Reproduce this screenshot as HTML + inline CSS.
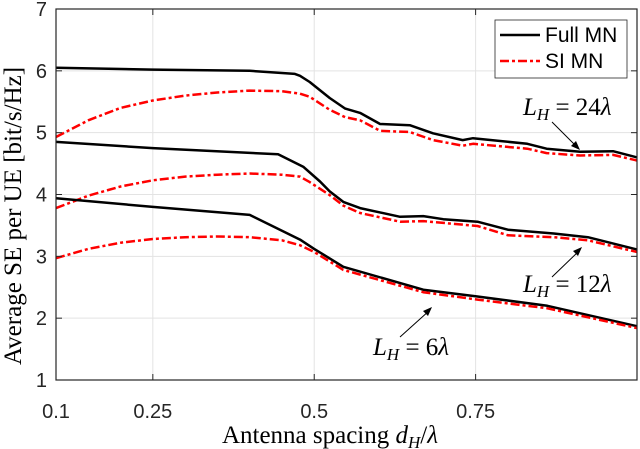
<!DOCTYPE html>
<html><head><meta charset="utf-8">
<style>
html,body{margin:0;padding:0;background:#fff;}
svg{display:block;}
.tick{font-family:"Liberation Sans",sans-serif;font-size:20px;fill:#262626;}
.ser{font-family:"Liberation Serif",serif;fill:#000;}
</style></head>
<body>
<svg id="chart" width="640" height="449" viewBox="0 0 640 449">
  <g id="grid"></g>
  <g id="series"></g>
  <rect x="56" y="9" width="581" height="371" fill="none" stroke="#262626" stroke-width="1.2"/>
  <g id="axes"></g>
  <text class="ser" x="330" y="443" font-size="25" text-anchor="middle">Antenna spacing <tspan font-style="italic">d</tspan><tspan font-style="italic" font-size="17" dy="5">H</tspan><tspan dy="-5">/</tspan><tspan font-style="italic">λ</tspan></text>
  <text class="ser" transform="translate(21,216) rotate(-90)" font-size="25" text-anchor="middle">Average SE per UE [bit/s/Hz]</text>
  <g>
    <rect x="495" y="20" width="132" height="58" fill="#fff" stroke="#262626" stroke-width="0.8"/>
    <line x1="500" y1="35" x2="540" y2="35" stroke="#000" stroke-width="2.5"/>
    <text x="545" y="42" font-family="Liberation Sans, sans-serif" font-size="21" fill="#000">Full MN</text>
    <line x1="500" y1="61" x2="540" y2="61" stroke="#f00" stroke-width="2.5" stroke-dasharray="9,3,3,3"/>
    <text x="545" y="68" font-family="Liberation Sans, sans-serif" font-size="21" fill="#000">SI MN</text>
  </g>
  <g>
    <text class="ser" x="523" y="115" font-size="25"><tspan font-style="italic">L</tspan><tspan font-style="italic" font-size="17" dy="5">H</tspan><tspan dy="-5"> = 24</tspan><tspan font-style="italic">λ</tspan></text>
    <line x1="552" y1="122" x2="578" y2="148" stroke="#000" stroke-width="1"/>
    <polygon points="580,150 571,146 576,141" fill="#000"/>
  </g>
  <g>
    <text class="ser" x="523" y="292" font-size="25"><tspan font-style="italic">L</tspan><tspan font-style="italic" font-size="17" dy="5">H</tspan><tspan dy="-5"> = 12</tspan><tspan font-style="italic">λ</tspan></text>
    <line x1="552" y1="277" x2="580" y2="250" stroke="#000" stroke-width="1"/>
    <polygon points="582,247 578,256 573,251" fill="#000"/>
  </g>
  <g>
    <text class="ser" x="373" y="355" font-size="25"><tspan font-style="italic">L</tspan><tspan font-style="italic" font-size="17" dy="5">H</tspan><tspan dy="-5"> = 6</tspan><tspan font-style="italic">λ</tspan></text>
    <line x1="400" y1="337" x2="430" y2="310" stroke="#000" stroke-width="1"/>
    <polygon points="432,307 428,316 423,311" fill="#000"/>
  </g>
</svg>
<script>
const xTicks = [0.1, 0.25, 0.5, 0.75];
const xTickLabels = ["0.1", "0.25", "0.5", "0.75"];
const yTicks = [1, 2, 3, 4, 5, 6, 7];
const yTickLabels = ["1", "2", "3", "4", "5", "6", "7"];

const full24X = [0.1, 0.25, 0.4, 0.47, 0.478, 0.493, 0.524, 0.548, 0.571, 0.602, 0.648, 0.684, 0.730, 0.746, 0.830, 0.860, 0.912, 0.963, 1.0];
const full24Y = [6.05, 6.02, 6.0, 5.95, 5.92, 5.82, 5.56, 5.39, 5.32, 5.14, 5.12, 4.99, 4.88, 4.91, 4.82, 4.74, 4.69, 4.70, 4.60];
const si24X = [0.1, 0.15, 0.2, 0.25, 0.3, 0.35, 0.4, 0.45, 0.478, 0.493, 0.524, 0.548, 0.571, 0.602, 0.648, 0.684, 0.730, 0.746, 0.830, 0.860, 0.912, 0.963, 1.0];
const si24Y = [4.93, 5.2, 5.4, 5.52, 5.6, 5.65, 5.68, 5.67, 5.63, 5.58, 5.37, 5.25, 5.20, 5.03, 5.01, 4.88, 4.79, 4.82, 4.74, 4.67, 4.63, 4.64, 4.55];

const full12X = [0.1, 0.25, 0.444, 0.483, 0.509, 0.524, 0.545, 0.571, 0.633, 0.669, 0.700, 0.753, 0.800, 0.871, 0.924, 1.0];
const full12Y = [4.85, 4.75, 4.65, 4.45, 4.21, 4.05, 3.88, 3.78, 3.64, 3.65, 3.60, 3.56, 3.43, 3.37, 3.31, 3.11];
const si12X = [0.1, 0.15, 0.2, 0.25, 0.3, 0.35, 0.4, 0.45, 0.478, 0.493, 0.524, 0.545, 0.571, 0.633, 0.669, 0.753, 0.800, 0.871, 0.924, 1.0];
const si12Y = [3.78, 3.98, 4.13, 4.23, 4.29, 4.32, 4.34, 4.32, 4.29, 4.20, 3.99, 3.82, 3.70, 3.56, 3.57, 3.49, 3.34, 3.31, 3.26, 3.07];

const full6X = [0.1, 0.25, 0.4, 0.478, 0.5, 0.545, 0.669, 0.753, 0.861, 1.0];
const full6Y = [3.94, 3.80, 3.67, 3.27, 3.12, 2.83, 2.46, 2.35, 2.20, 1.87];
const si6X = [0.1, 0.15, 0.2, 0.25, 0.3, 0.35, 0.4, 0.45, 0.478, 0.5, 0.545, 0.669, 0.753, 0.861, 1.0];
const si6Y = [2.97, 3.12, 3.22, 3.28, 3.31, 3.32, 3.31, 3.26, 3.18, 3.07, 2.78, 2.42, 2.30, 2.16, 1.84];

const X0 = 56, X1 = 637, Y0 = 380, Y1 = 9;
function xs(v){ return X0 + (v - 0.1) / (1.0 - 0.1) * (X1 - X0); }
function ys(v){ return Y0 - (v - 1) / (7 - 1) * (Y0 - Y1); }
const NS = "http://www.w3.org/2000/svg";
const grid = document.getElementById('grid');
const axes = document.getElementById('axes');
const series = document.getElementById('series');
function mk(tag, attrs, parent){
  const e = document.createElementNS(NS, tag);
  for (const k in attrs) e.setAttribute(k, attrs[k]);
  parent.appendChild(e);
  return e;
}
xTicks.forEach((t, i) => {
  const x = xs(t);
  const g = mk('line', {x1:x, y1:Y1, x2:x, y2:Y0, stroke:'#e3e3e3', 'stroke-width':1}, grid);
  
  
  const tk = mk('line', {x1:x, y1:Y0, x2:x, y2:Y0-6, stroke:'#262626', 'stroke-width':1}, axes);
  
  
  const tk2 = mk('line', {x1:x, y1:Y1, x2:x, y2:Y1+6, stroke:'#262626', 'stroke-width':1}, axes);
  
  
  const lb = mk('text', {x:x, y:418, 'text-anchor':'middle', class:'tick'}, axes);
  lb.textContent = xTickLabels[i];
  
  
});
yTicks.forEach((t, i) => {
  const y = ys(t);
  const g = mk('line', {x1:X0, y1:y, x2:X1, y2:y, stroke:'#e3e3e3', 'stroke-width':1}, grid);
  
  
  const tk = mk('line', {x1:X0, y1:y, x2:X0+6, y2:y, stroke:'#262626', 'stroke-width':1}, axes);
  
  
  const tk2 = mk('line', {x1:X1, y1:y, x2:X1-6, y2:y, stroke:'#262626', 'stroke-width':1}, axes);
  
  
  const lb = mk('text', {x:47, y:y+7, 'text-anchor':'end', class:'tick'}, axes);
  lb.textContent = yTickLabels[i];
  
  
});
function drawLine(xv, yv, color, dash, name){
  const d = xv.map((v, i) => (i ? 'L' : 'M') + xs(v).toFixed(1) + ',' + ys(yv[i]).toFixed(1)).join(' ');
  const attrs = {d:d, fill:'none', stroke:color, 'stroke-width':2.5, 'stroke-linejoin':'round'};
  if (dash) attrs['stroke-dasharray'] = dash;
  const p = mk('path', attrs, series);
  
  
}
drawLine(full24X, full24Y, '#000', null, 'full-mn-24-line');
drawLine(si24X, si24Y, '#f00', '9,3,3,3', 'si-mn-24-line');
drawLine(full12X, full12Y, '#000', null, 'full-mn-12-line');
drawLine(si12X, si12Y, '#f00', '9,3,3,3', 'si-mn-12-line');
drawLine(full6X, full6Y, '#000', null, 'full-mn-6-line');
drawLine(si6X, si6Y, '#f00', '9,3,3,3', 'si-mn-6-line');
</script>
</body></html>
